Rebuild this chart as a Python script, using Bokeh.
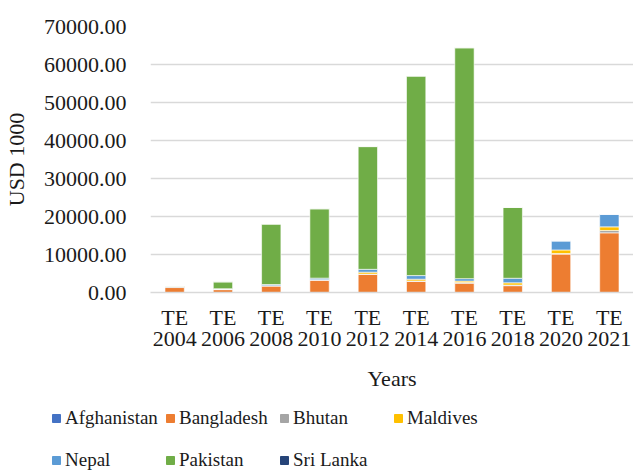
from bokeh.plotting import figure
from bokeh.layouts import column
from bokeh.models import ColumnDataSource, Legend, LegendItem, PrintfTickFormatter, SingleIntervalTicker, Range1d
from bokeh.embed import file_html
from bokeh.resources import INLINE

# Triennium-ending periods
periods = ["TE\n2004", "TE\n2006", "TE\n2008", "TE\n2010", "TE\n2012",
           "TE\n2014", "TE\n2016", "TE\n2018", "TE\n2020", "TE\n2021"]

countries = ["Afghanistan", "Bangladesh", "Bhutan", "Maldives", "Nepal", "Pakistan", "Sri Lanka"]

# Values in USD 1000
afghanistan = [0, 0, 0, 0, 0, 0, 0, 0, 0, 0]
bangladesh = [1300, 750, 1700, 3250, 4800, 2900, 2450, 1800, 10100, 15700]
bhutan = [250, 150, 100, 50, 50, 150, 150, 150, 150, 600]
maldives = [0, 0, 0, 80, 500, 450, 400, 600, 950, 970]
nepal = [60, 100, 300, 400, 750, 950, 650, 1200, 2400, 3330]
pakistan = [70, 1800, 15900, 18250, 32300, 52500, 60750, 18620, 0, 0]
sri_lanka = [0, 0, 0, 0, 0, 0, 0, 0, 0, 0]

colors = ["#4472C4", "#ED7D31", "#A5A5A5", "#FFC000", "#5B9BD5", "#70AD47", "#264478"]

source = ColumnDataSource(data={
    "period": periods,
    "Afghanistan": afghanistan,
    "Bangladesh": bangladesh,
    "Bhutan": bhutan,
    "Maldives": maldives,
    "Nepal": nepal,
    "Pakistan": pakistan,
    "Sri Lanka": sri_lanka,
})

FONT = "Liberation Serif"
TEXT = "#1a1a1a"

p = figure(x_range=periods, y_range=Range1d(0, 70000), width=633, height=400,
           output_backend="svg", toolbar_location=None, frame_align=False,
           min_border_left=150, min_border_right=0, min_border_top=26, min_border_bottom=108)
p.outline_line_color = None

p.vbar_stack(countries, x="period", width=0.4, color=colors, source=source,
             line_color="white", line_alpha=0.6, line_width=1)

# Axes
p.yaxis.ticker = SingleIntervalTicker(interval=10000)
p.yaxis.formatter = PrintfTickFormatter(format="%.2f")
p.yaxis.axis_line_color = None
p.yaxis.major_tick_line_color = None
p.yaxis.minor_tick_line_color = None
p.yaxis.major_label_standoff = 18
p.yaxis.major_label_text_font = FONT
p.yaxis.major_label_text_font_size = "22px"
p.yaxis.major_label_text_color = TEXT
p.yaxis.axis_label = "USD 1000"
p.yaxis.axis_label_text_font = FONT
p.yaxis.axis_label_text_font_size = "22px"
p.yaxis.axis_label_text_font_style = "normal"
p.yaxis.axis_label_text_color = TEXT
p.yaxis.axis_label_standoff = 12

p.xaxis.axis_line_color = "#d9d9d9"
p.xaxis.axis_line_width = 1.5
p.xaxis.major_tick_line_color = None
p.xaxis.minor_tick_line_color = None
p.xaxis.major_label_standoff = 6
p.xaxis.major_label_text_font = FONT
p.xaxis.major_label_text_font_size = "22px"
p.xaxis.major_label_text_color = TEXT
p.xaxis.major_label_text_line_height = 0.85
p.xaxis.axis_label = "Years"
p.xaxis.axis_label_text_font = FONT
p.xaxis.axis_label_text_font_size = "22px"
p.xaxis.axis_label_text_font_style = "normal"
p.xaxis.axis_label_text_color = TEXT
p.xaxis.axis_label_standoff = 12

p.xgrid.grid_line_color = None
p.ygrid.grid_line_color = "#d9d9d9"
p.ygrid.grid_line_width = 1.5

# Legend strip under the chart, with one zero-height swatch renderer per country
key = figure(width=633, height=70, output_backend="svg", toolbar_location=None,
             x_axis_type=None, y_axis_type=None, min_border=0, frame_align=False,
             x_range=Range1d(0, 1), y_range=Range1d(0, 1))
key.outline_line_color = None
key.xgrid.grid_line_color = None
key.ygrid.grid_line_color = None
swatches = [key.vbar(x=[0], top=[0], width=0, color=c) for c in colors]

legend = Legend(
    items=[LegendItem(label=c, renderers=[r]) for c, r in zip(countries, swatches)],
    orientation="horizontal", ncols=4,
    location=(51, -7),
    glyph_width=10, glyph_height=10, label_standoff=4,
    label_width=93, label_height=35, spacing=7,
    padding=0, margin=0,
    border_line_color=None, background_fill_alpha=0,
    label_text_font=FONT, label_text_font_size="19px", label_text_color=TEXT,
)
key.add_layout(legend, "center")

open("out.html", "w").write(file_html(column(p, key), INLINE))
